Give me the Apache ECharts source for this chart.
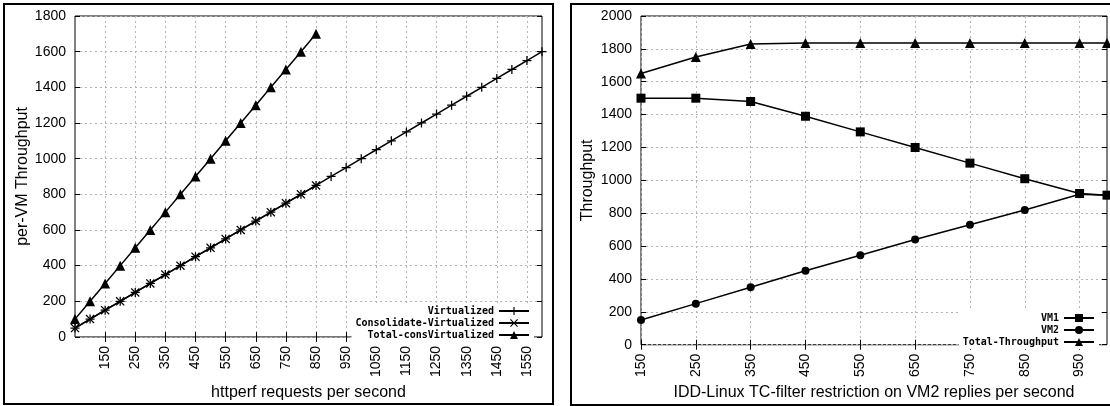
<!DOCTYPE html>
<html>
<head>
<meta charset="utf-8">
<script src="https://cdn.jsdelivr.net/npm/echarts@6/dist/echarts.min.js"></script>
<style>
  html, body { margin: 0; padding: 0; background: #fff; }
  #chart { width: 1110px; height: 406px; }
</style>
</head>
<body>
<div id="chart"></div>
<script>
// ---- left panel: httperf load vs per-VM throughput ----
const reqRates = ['50','100','150','200','250','300','350','400','450','500','550','600','650','700','750','800',
                  '850','900','950','1000','1050','1100','1150','1200','1250','1300','1350','1400','1450','1500','1550','1600'];
const virtualized = [50,100,150,200,250,300,350,400,450,500,550,600,650,700,750,800,
                     850,900,950,1000,1050,1100,1150,1200,1250,1300,1350,1400,1450,1500,1550,1600];
const consolidateVirtualized = [50,100,150,200,250,300,350,400,450,500,550,600,650,700,750,800,850];
const totalConsVirtualized = [100,200,300,400,500,600,700,800,900,1000,1100,1200,1300,1400,1500,1600,1700];

// ---- right panel: TC-filter restriction on VM2 ----
const restrictCats = ['150','200','250','300','350','400','450','500','550','600','650','700','750','800','850','900','950','1000'];
const restrictX = ['150','250','350','450','550','650','750','850','950','1000'];
const vm1 = [1500,1500,1480,1390,1295,1200,1105,1010,920,910];
const vm2 = [150,250,350,450,545,640,730,820,915,910];
const totalThroughput = [1650,1750,1830,1835,1835,1835,1835,1835,1835,1835];

const PLUS = 'path://M4.3,0H5.7V4.3H10V5.7H5.7V10H4.3V5.7H0V4.3H4.3Z';
const CROSS = 'path://M0,1L1,0L5,4L9,0L10,1L6,5L10,9L9,10L5,6L1,10L0,9L4,5Z';

const FONT = '"Liberation Sans", Arial, sans-serif';
const MONO = '"DejaVu Sans Mono", "Liberation Mono", monospace';
const gridLine = { show: true, lineStyle: { color: '#b4b4b4', width: 1, type: [2, 3] } };
const tickIn = { show: true, inside: true, length: 5, lineStyle: { color: '#000' } };
const plainNum = (v) => String(v);

const pairs = (xs, ys) => xs.map((x, i) => [restrictCats.indexOf(x), ys[i]]);
const everyOther = (last) => (idx) => idx % 2 === 0 && idx > 0 && idx < last;
const rightOdd = (idx) => idx % 2 === 0 && idx < restrictCats.length - 1;

function lineSeries(name, data, xi, yi, symbol, size) {
  return {
    name, type: 'line', data, xAxisIndex: xi, yAxisIndex: yi,
    symbol, symbolSize: size, showSymbol: true, showAllSymbol: true,
    lineStyle: { color: '#000', width: 1.5 },
    itemStyle: { color: '#000' },
    animation: false, z: 3
  };
}

const option = {
  animation: false,
  backgroundColor: '#fff',
  textStyle: { fontFamily: FONT, color: '#000' },
  grid: [
    { left: 75, top: 16, width: 467, height: 325, show: true, borderColor: '#000', borderWidth: 1, backgroundColor: 'transparent' },
    { left: 641, top: 16, width: 466, height: 331, show: true, borderColor: '#000', borderWidth: 1, backgroundColor: 'transparent' }
  ],
  xAxis: [
    {
      type: 'category', gridIndex: 0, data: reqRates, boundaryGap: false,
      name: 'httperf requests per second', nameLocation: 'middle', nameGap: 46,
      nameTextStyle: { fontSize: 16, color: '#000', fontFamily: FONT },
      axisLine: { show: false },
      axisTick: Object.assign({}, tickIn, { interval: everyOther(reqRates.length - 1) }),
      axisLabel: { interval: everyOther(reqRates.length - 1), rotate: 90, fontSize: 14, color: '#000', margin: 9, fontFamily: FONT },
      splitLine: Object.assign({}, gridLine, { interval: everyOther(reqRates.length - 1) })
    },
    {
      type: 'category', gridIndex: 0, data: reqRates, boundaryGap: false, position: 'top',
      axisLine: { show: false }, axisLabel: { show: false }, splitLine: { show: false },
      axisTick: Object.assign({}, tickIn, { interval: everyOther(reqRates.length - 1) })
    },
    {
      type: 'category', gridIndex: 1, data: restrictCats, boundaryGap: false,
      name: 'IDD-Linux TC-filter restriction on VM2 replies per second', nameLocation: 'middle', nameGap: 38,
      nameTextStyle: { fontSize: 16, color: '#000', fontFamily: FONT },
      axisLine: { show: false },
      axisTick: Object.assign({}, tickIn, { interval: rightOdd }),
      axisLabel: { interval: rightOdd, rotate: 90, fontSize: 14, color: '#000', margin: 9, fontFamily: FONT },
      splitLine: Object.assign({}, gridLine, { interval: rightOdd })
    },
    {
      type: 'category', gridIndex: 1, data: restrictCats, boundaryGap: false, position: 'top',
      axisLine: { show: false }, axisLabel: { show: false }, splitLine: { show: false },
      axisTick: Object.assign({}, tickIn, { interval: rightOdd })
    }
  ],
  yAxis: [
    {
      type: 'value', gridIndex: 0, min: 0, max: 1800, interval: 200,
      name: 'per-VM Throughput', nameLocation: 'middle', nameGap: 36,
      nameTextStyle: { fontSize: 16, color: '#000', fontFamily: FONT },
      axisLine: { show: false }, axisTick: tickIn,
      axisLabel: { fontSize: 14, color: '#000', margin: 9, fontFamily: FONT, formatter: plainNum },
      splitLine: gridLine
    },
    {
      type: 'value', gridIndex: 0, min: 0, max: 1800, interval: 200, position: 'right',
      axisLine: { show: false }, axisTick: tickIn, axisLabel: { show: false }, splitLine: { show: false }
    },
    {
      type: 'value', gridIndex: 1, min: 0, max: 2000, interval: 200,
      name: 'Throughput', nameLocation: 'middle', nameGap: 45,
      nameTextStyle: { fontSize: 16, color: '#000', fontFamily: FONT },
      axisLine: { show: false }, axisTick: tickIn,
      axisLabel: { fontSize: 14, color: '#000', margin: 9, fontFamily: FONT, formatter: plainNum },
      splitLine: gridLine
    },
    {
      type: 'value', gridIndex: 1, min: 0, max: 2000, interval: 200, position: 'right',
      axisLine: { show: false }, axisTick: tickIn, axisLabel: { show: false }, splitLine: { show: false }
    }
  ],
  legend: [
    {
      data: ['Virtualized', 'Consolidate-Virtualized', 'Total-consVirtualized'],
      orient: 'vertical', align: 'right', right: 576, top: 304,
      itemWidth: 30, itemHeight: 10, itemGap: 2, padding: [2, 4],
      backgroundColor: '#fff',
      textStyle: { fontFamily: MONO, fontWeight: 'bold', fontSize: 10, color: '#000' }
    },
    {
      data: ['VM1', 'VM2', 'Total-Throughput'],
      orient: 'vertical', align: 'right', right: 11, top: 311,
      itemWidth: 30, itemHeight: 10, itemGap: 2, padding: [2, 4],
      backgroundColor: '#fff',
      textStyle: { fontFamily: MONO, fontWeight: 'bold', fontSize: 10, color: '#000' }
    }
  ],
  series: [
    lineSeries('Virtualized', virtualized, 0, 0, PLUS, 9),
    lineSeries('Consolidate-Virtualized', consolidateVirtualized, 0, 0, CROSS, 9),
    lineSeries('Total-consVirtualized', totalConsVirtualized, 0, 0, 'triangle', 10),
    lineSeries('VM1', pairs(restrictX, vm1), 2, 2, 'rect', 9),
    lineSeries('VM2', pairs(restrictX, vm2), 2, 2, 'circle', 8),
    lineSeries('Total-Throughput', pairs(restrictX, totalThroughput), 2, 2, 'triangle', 10)
  ],
  graphic: [
    { type: 'rect', shape: { x: 4, y: 4, width: 549, height: 400 }, style: { fill: 'none', stroke: '#000', lineWidth: 2 }, z: 100, silent: true },
    { type: 'rect', shape: { x: 571, y: 4, width: 545, height: 401 }, style: { fill: 'none', stroke: '#000', lineWidth: 2 }, z: 100, silent: true }
  ]
};

const chart = echarts.init(document.getElementById('chart'), null, { renderer: 'canvas' });
chart.setOption(option);
</script>
</body>
</html>
